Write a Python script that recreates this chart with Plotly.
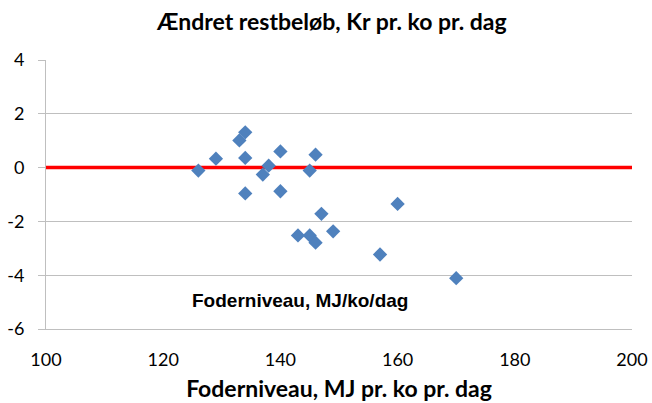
import plotly.graph_objects as go

foder = [126, 129, 133, 134, 134, 134, 137, 138, 140, 140,
         145, 146, 147, 143, 145, 146, 149, 157, 160, 170]
restbeloeb = [-0.11, 0.33, 1.01, 1.31, 0.36, -0.96, -0.26, 0.07, 0.60, -0.88,
              -0.11, 0.48, -1.72, -2.52, -2.52, -2.79, -2.37, -3.23, -1.35, -4.11]
ref_x = [100, 200]
ref_y = [0, 0]
x_ticks = [100, 120, 140, 160, 180, 200]
y_ticks = [-6, -4, -2, 0, 2, 4]
y_ticktext = ["-6", "-4", "-2", "0", "2", "4"]

fig = go.Figure()
fig.add_trace(go.Scatter(x=ref_x, y=ref_y, mode="lines",
                         line=dict(color="#FF0000", width=3.5),
                         hoverinfo="skip", showlegend=False))
fig.add_trace(go.Scatter(x=foder, y=restbeloeb, mode="markers",
                         marker=dict(symbol="diamond", size=11, color="#4F81BD"),
                         showlegend=False))

fig.update_layout(
    width=652, height=403,
    margin=dict(l=46, r=20, t=60, b=74),
    paper_bgcolor="white", plot_bgcolor="white",
    title=dict(text="<b>Ændret restbeløb, Kr pr. ko pr. dag</b>",
               font=dict(family="Lato", size=23, color="#000000"),
               x=0.509, xref="container", xanchor="center",
               y=1 - 22 / 403, yref="container", yanchor="middle"),
    annotations=[dict(text="<b>Foderniveau, MJ/ko/dag</b>", x=143.3, xref="x",
                      y=-4.95, yref="y", showarrow=False,
                      font=dict(family="Liberation Sans", size=19, color="#000000"))],
)
fig.update_xaxes(range=[100, 200], tickvals=x_ticks, showgrid=False,
                 zeroline=False, showline=True, linecolor="#BFBFBF", linewidth=1,
                 ticks="", ticklabelstandoff=14, automargin=False,
                 tickfont=dict(family="Lato", size=18, color="#000000"),
                 title=dict(text="<b>Foderniveau, MJ pr. ko pr. dag</b>", standoff=12,
                            font=dict(family="Lato", size=23, color="#000000")))
fig.update_yaxes(range=[-6, 4], tickvals=y_ticks, ticktext=y_ticktext, showgrid=True,
                 gridcolor="#BFBFBF", gridwidth=1, zeroline=False,
                 showline=True, linecolor="#BFBFBF", linewidth=1,
                 ticks="outside", ticklen=7, tickcolor="#BFBFBF",
                 ticklabelstandoff=10, automargin=False,
                 tickfont=dict(family="Lato", size=18, color="#000000"))

fig.write_html("out.html", config={"displayModeBar": False},
               post_script="document.body.style.margin='0';document.body.style.overflow='hidden';")
